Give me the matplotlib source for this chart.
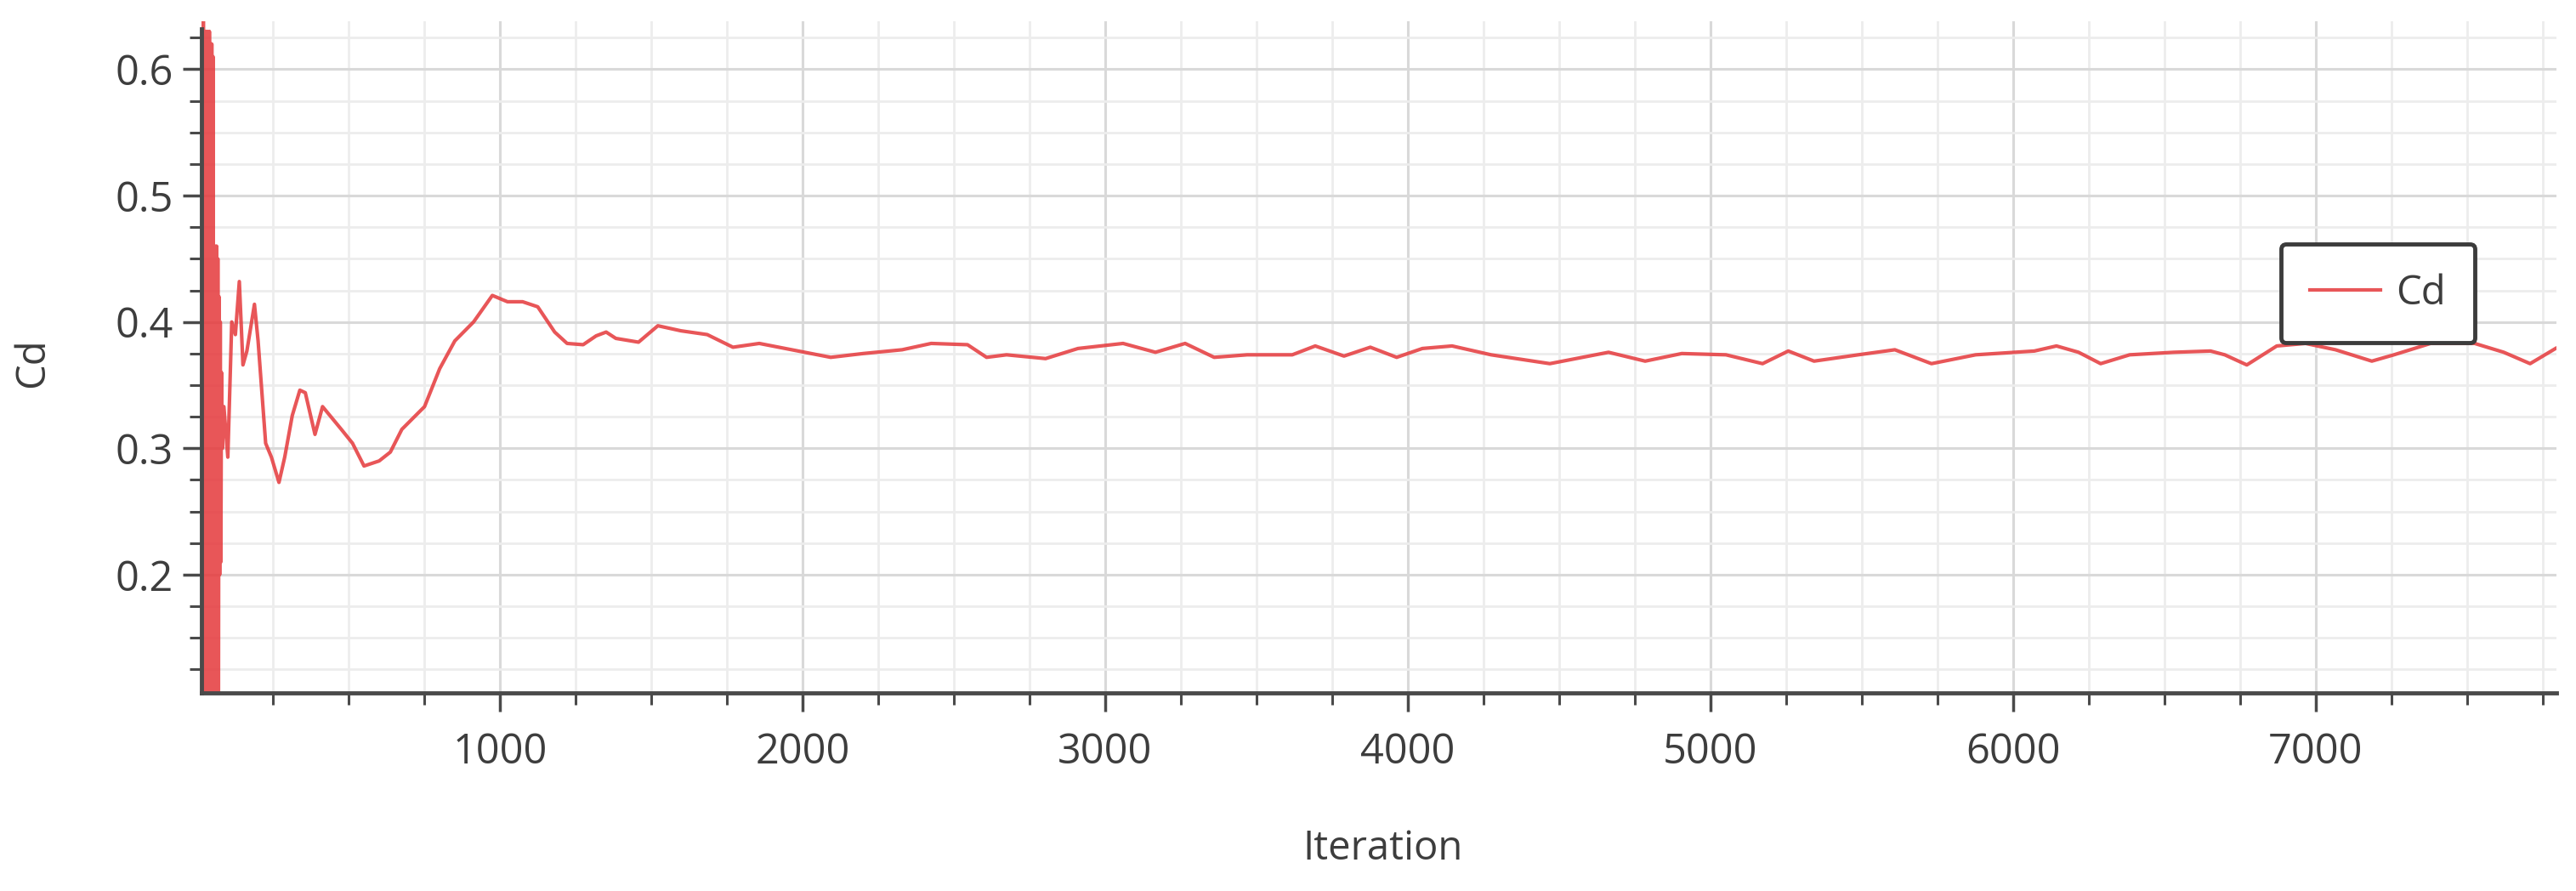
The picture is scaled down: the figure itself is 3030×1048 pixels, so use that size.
import matplotlib
matplotlib.use("Agg")
import matplotlib.pyplot as plt
from matplotlib.ticker import MultipleLocator

# values
iteration = [14, 16, 18, 20, 22, 24, 26, 28, 30, 32, 34, 36, 38, 40, 42, 44,
             46, 48, 50, 52, 54, 56, 58, 60, 62, 64, 66, 68, 70, 72, 74, 76,
             78, 80, 83,
             88, 101, 114, 126, 139, 151, 164, 189, 201, 226, 245, 270, 289,
             314, 339, 357, 389, 414, 438, 476, 513, 551, 601, 638, 676, 751,
             801, 851, 913, 975, 1025, 1075, 1125, 1181, 1222, 1275, 1318,
             1351, 1383, 1458, 1522, 1598, 1685, 1770, 1857, 1964, 2093, 2200,
             2329, 2425, 2545, 2608, 2674, 2803, 2910, 3059, 3166, 3264, 3360,
             3469, 3618, 3694, 3789, 3876, 3963, 4048, 4146, 4275, 4469, 4663,
             4784, 4905, 5051, 5172, 5257, 5342, 5488, 5609, 5730, 5876, 6070,
             6143, 6216, 6289, 6385, 6531, 6652, 6699, 6772, 6871, 6966, 7065,
             7185, 7258, 7379, 7525, 7621, 7708, 7792]
cd = [0.03, 0.63, 0.02, 0.64, 0.03, 0.63, 0.02, 0.63, 0.04, 0.63, 0.03, 0.62,
      0.04, 0.63, 0.03, 0.62, 0.05, 0.62, 0.04, 0.61, 0.05, 0.46, 0.04, 0.46,
      0.06, 0.46, 0.05, 0.45, 0.08, 0.42, 0.20, 0.40, 0.21, 0.36, 0.30,
      0.333, 0.293, 0.400, 0.390, 0.432, 0.366, 0.377, 0.414, 0.385, 0.304,
      0.293, 0.273, 0.293, 0.326, 0.346, 0.344, 0.311, 0.333, 0.326, 0.315,
      0.304, 0.286, 0.290, 0.297, 0.315, 0.333, 0.363, 0.385, 0.400, 0.421,
      0.416, 0.416, 0.412, 0.392, 0.383, 0.382, 0.389, 0.392, 0.387, 0.384,
      0.397, 0.393, 0.390, 0.380, 0.383, 0.378, 0.372, 0.375, 0.378, 0.383,
      0.382, 0.372, 0.374, 0.371, 0.379, 0.383, 0.376, 0.383, 0.372, 0.374,
      0.374, 0.381, 0.373, 0.380, 0.372, 0.379, 0.381, 0.374, 0.367, 0.376,
      0.369, 0.375, 0.374, 0.367, 0.377, 0.369, 0.374, 0.378, 0.367, 0.374,
      0.377, 0.381, 0.376, 0.367, 0.374, 0.376, 0.377, 0.374, 0.366, 0.381,
      0.383, 0.378, 0.369, 0.374, 0.383, 0.383, 0.376, 0.367, 0.379]

xticks = [1000, 2000, 3000, 4000, 5000, 6000, 7000]
yticks = [0.2, 0.3, 0.4, 0.5, 0.6]
ytick_labels = ['0.2', '0.3', '0.4', '0.5', '0.6']

plt.rcParams['font.family'] = ['Open Sans', 'DejaVu Sans']
text_color = '#3d3d3d'
axis_color = '#4a4a4a'

fig = plt.figure(figsize=(30.30, 10.48), dpi=100)
ax = fig.add_axes([237 / 3030, 1 - 815 / 1048, 2770 / 3030, 790 / 1048])

ax.plot(iteration, cd, color='#e5383b', lw=3, label='Cd', alpha=0.85)

ax.set_xlim(14, 7795)
ax.set_ylim(0.1064, 0.638)
ax.xaxis.set_major_locator(MultipleLocator(1000))
ax.xaxis.set_minor_locator(MultipleLocator(250))
ax.yaxis.set_major_locator(MultipleLocator(0.1))
ax.yaxis.set_minor_locator(MultipleLocator(0.025))

ax.grid(True, which='major', color='#d9d9d9', lw=2.2)
ax.grid(True, which='minor', color='#ededed', lw=2)
ax.set_axisbelow(True)

for s in ['top', 'right']:
    ax.spines[s].set_visible(False)
for s in ['left', 'bottom']:
    ax.spines[s].set_color(axis_color)
    ax.spines[s].set_linewidth(3.5)
ax.spines['left'].set_bounds(0.1064, 0.632)

ax.tick_params(which='major', length=16, width=2.5, color=axis_color,
               labelsize=35, labelcolor=text_color)
ax.tick_params(which='minor', length=10, width=2.2, color=axis_color)
ax.tick_params(axis='y', which='major', pad=8)
ax.tick_params(axis='x', which='major', pad=17)
ax.set_xticks(xticks)
ax.set_yticks(yticks)
ax.set_yticklabels(ytick_labels)

fig.text(1627 / 3030, 1 - 998 / 1048, 'Iteration', fontsize=34,
         color=text_color, ha='center', va='center')
fig.text(38 / 3030, 1 - 427 / 1048, 'Cd', fontsize=34, color=text_color,
         ha='center', va='center', rotation=90)

leg = ax.legend(loc='upper left', bbox_to_anchor=(2683 / 3030, 1 - 287 / 1048),
                bbox_transform=fig.transFigure, fontsize=34, frameon=True,
                fancybox=True, handlelength=1.75, borderpad=0.72,
                handletextpad=0.4, borderaxespad=0, framealpha=1)
leg.get_frame().set_edgecolor('#3c3c3c')
leg.get_frame().set_linewidth(3.5)
leg.get_frame().set_boxstyle('round', pad=0, rounding_size=0.12)
for t in leg.get_texts():
    t.set_color(text_color)

fig.savefig('out.png', dpi=100)
